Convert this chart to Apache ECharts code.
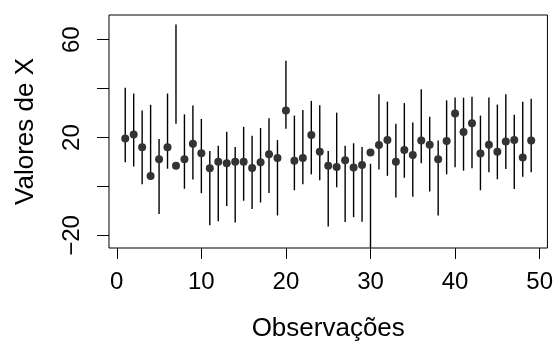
<!DOCTYPE html>
<html><head><meta charset="utf-8">
<script src="https://cdn.jsdelivr.net/npm/echarts@6/dist/echarts.min.js"></script>
<style>html,body{margin:0;padding:0;background:#fff}#c{width:556px;height:347px}</style>
</head><body><div id="c"></div>
<script>
var obs = [1,2,3,4,5,6,7,8,9,10,11,12,13,14,15,16,17,18,19,20,21,22,23,24,25,26,27,28,29,30,31,32,33,34,35,36,37,38,39,40,41,42,43,44,45,46,47,48,49];
var values = [19.6,21.3,16.1,4.3,11.2,16.1,8.5,11.2,17.5,13.6,7.5,10.1,9.5,10.1,10.1,7.6,9.9,13.2,11.7,31.1,10.6,11.7,21.1,14.2,8.5,8.0,10.8,7.8,8.8,13.9,17.0,19.0,10.1,14.9,12.9,18.8,17.1,11.2,18.6,29.9,22.3,25.9,13.5,17.1,14.2,18.4,19.0,11.9,18.8];
var upper = [40.4,38.0,31.1,33.4,19.4,38.0,66.2,29.5,33.1,27.6,14.5,16.7,22.4,16.2,24.4,20.8,23.9,27.9,19.0,51.4,29.0,31.3,35.0,33.2,14.5,30.2,16.7,17.7,16.2,9.3,37.7,34.7,25.7,34.1,26.2,39.8,28.5,18.8,35.2,36.4,36.3,36.7,29.0,36.4,33.5,37.7,29.3,34.7,35.9];
var lower = [9.9,8.2,0.9,2.7,-11.2,7.3,25.7,-0.9,2.9,-2.7,-15.8,-14.2,-7.9,-14.7,-5.8,-9.2,-6.5,-2.6,-11.8,23.6,-1.5,0.9,5.0,2.6,-16.3,-0.3,-14.5,-12.5,-14.4,-25.0,7.0,4.4,-4.5,3.6,-4.2,9.5,-2.0,-11.8,5.0,7.9,6.5,7.5,-1.5,5.9,3.0,7.2,-1.0,4.0,5.9];
var xTicks = [0,10,20,30,40,50];
var yTicks = [-20,0,20,40,60];
var yLabels = [-20,20,60];

var pts = obs.map(function(o,i){return [o, values[i]];});
var bars = obs.map(function(o,i){return [o, lower[i], upper[i]];});
var font = 'Liberation Sans, Arial, Helvetica, sans-serif';
var chart = echarts.init(document.getElementById('c'), null, {renderer:'canvas'});
chart.setOption({
  animation:false,
  grid:{left:109,right:8,top:15,bottom:94,show:true,borderColor:'#000',borderWidth:1,backgroundColor:'transparent'},
  xAxis:{type:'value',min:-0.92,max:50.92,position:'bottom',
    name:'Observações',nameLocation:'middle',nameGap:68,
    nameTextStyle:{fontFamily:font,fontSize:26,color:'#000'},
    axisLine:{show:false,onZero:false},splitLine:{show:false},
    axisTick:{show:true,inside:false,customValues:xTicks,length:11,lineStyle:{color:'#000',width:1}},
    axisLabel:{customValues:xTicks,fontFamily:font,fontSize:24,color:'#000',margin:22}},
  yAxis:{type:'value',min:-25.1,max:70.1,position:'left',
    name:'Valores de X',nameLocation:'middle',nameGap:70,nameRotate:90,
    nameTextStyle:{fontFamily:font,fontSize:26,color:'#000'},
    axisLine:{show:false,onZero:false},splitLine:{show:false},
    axisTick:{show:true,inside:false,customValues:yTicks,length:12,lineStyle:{color:'#000',width:1}},
    axisLabel:{customValues:yLabels,rotate:90,fontFamily:font,fontSize:24,color:'#000',margin:25,
      formatter:function(v){return String(v).replace('-','\u2212');}}},
  series:[
    {type:'custom',data:bars,z:2,
      renderItem:function(params,api){
        var a=api.coord([api.value(0),api.value(1)]);
        var b=api.coord([api.value(0),api.value(2)]);
        return {type:'line',shape:{x1:a[0],y1:a[1],x2:b[0],y2:b[1]},style:{stroke:'#000',lineWidth:1.4}};
      },
      encode:{x:0,y:[1,2]}},
    {type:'scatter',data:pts,z:3,symbol:'circle',symbolSize:8,itemStyle:{color:'#333',opacity:1}}
  ]
});
</script></body></html>
